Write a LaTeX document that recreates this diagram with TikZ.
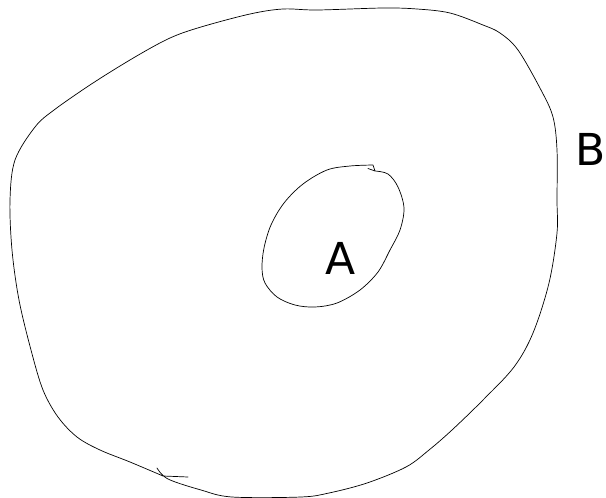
\documentclass[tikz,border=0pt]{standalone}
\usepackage{fontspec}
\setmainfont{DejaVu Sans}
\begin{document}
\begin{tikzpicture}[x=1pt,y=-1pt,
  blob/.style={draw=black,line width=0.7pt,line join=round,line cap=round},
  lab/.style={font=\fontsize{44}{50}\selectfont,inner sep=0pt}]
\useasboundingbox (0,0) rectangle (606,498);
% outer region B
\draw[blob] plot[smooth,tension=0.55] coordinates {
 (157,468) (168,479) (201,490) (232,497) (301,497) (329,493) (367,483)
 (406,467) (429,450) (452,430) (483,400) (514,367) (533,333) (549,283)
 (557,233) (557,200) (557,150) (553,117) (541,90) (518,50) (500,33)
 (483,25) (450,13) (417,9) (383,8) (317,10) (283,9) (250,14) (201,27)
 (170,38) (135,57) (93,83) (54,110) (35,127) (15,160) (10,200) (12,250)
 (19,300) (31,350) (43,390) (58,417) (77,437) (100,450) (130,462) (163,476)}
 -- (188,477);
% inner region A
\draw[blob] (368,168.5) -- (375,171) plot[smooth,tension=0.55] coordinates {
 (375,171) (388,174) (398,187) (404,208) (400,230) (390,250) (378,272)
 (360,290) (337,303) (315,307) (295,305) (277,297) (265,283) (262,268)
 (264,248) (271,225) (284,203) (303,184) (327,170) (350,166) (373,165)}
 -- cycle;
\node[lab] (A) at (341,258.5) {A};
\node[lab] (B) at (591,149) {B};
\end{tikzpicture}
\end{document}
